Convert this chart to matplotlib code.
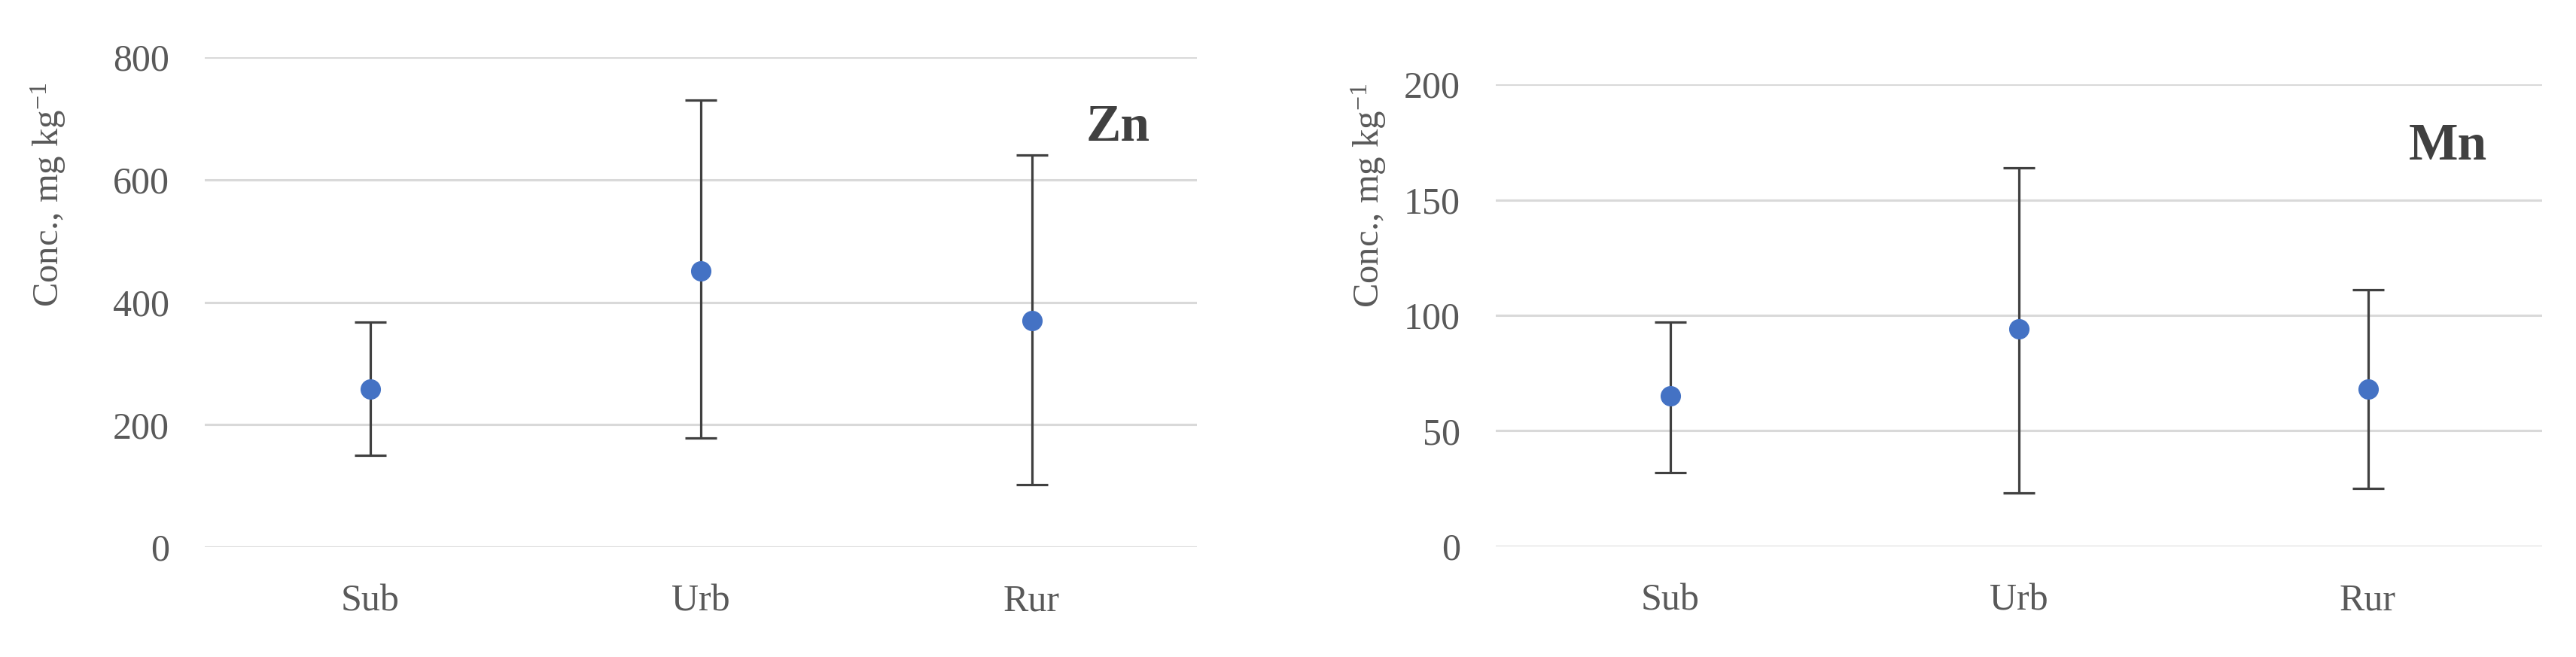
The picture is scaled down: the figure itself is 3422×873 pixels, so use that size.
import numpy as np
import matplotlib
matplotlib.use('Agg')
import matplotlib.pyplot as plt

sites = ['Sub', 'Urb', 'Rur']

zn_mean = [258, 451, 370]
zn_high = [368, 730, 640]
zn_low = [150, 178, 102]

mn_mean = [65, 94, 68]
mn_high = [97, 164, 111]
mn_low = [32, 23, 25]

plt.rcParams['font.family'] = 'Liberation Serif'
plt.rcParams['mathtext.fontset'] = 'custom'
plt.rcParams['mathtext.rm'] = 'Liberation Serif'
plt.rcParams['mathtext.default'] = 'regular'

fig = plt.figure(figsize=(34.22, 8.73), dpi=100)
ax1 = fig.add_axes([0.0795, 0.1672, 0.3852, 0.7457])
ax2 = fig.add_axes([0.5807, 0.1684, 0.4062, 0.7033])


def draw(ax, mean, low, high, ymax, step, name, tx, ty, label_pos):
    x = np.arange(len(sites)) + 0.5
    mean = np.array(mean)
    err = [mean - np.array(low), np.array(high) - mean]
    ax.errorbar(x, mean, yerr=err, fmt='none', ecolor='#404040',
                elinewidth=2.3, capsize=15, capthick=2.3, zorder=2)
    ax.plot(x, mean, 'o', color='#4472C4', markersize=18.5, zorder=3)
    ax.set_xlim(0, 3)
    ax.set_ylim(0, ymax)
    ax.set_yticks(np.arange(0, ymax + 1, step))
    ax.set_xticks(x)
    ax.set_xticklabels(sites)
    ax.grid(axis='y', color='#d9d9d9', linewidth=2.2)
    ax.set_axisbelow(True)
    for s in ax.spines.values():
        s.set_visible(False)
    ax.tick_params(axis='both', length=0, labelsize=36, colors='#595959')
    ax.tick_params(axis='x', pad=35)
    ax.tick_params(axis='y', pad=34)
    ax.set_ylabel('Conc., mg kg$^{-1}$', fontsize=35, color='#595959')
    ax.yaxis.set_label_coords(label_pos[0], label_pos[1])
    ax.text(tx, ty, name, fontsize=50, fontweight='bold', color='#404040',
            ha='center', va='center')


draw(ax1, zn_mean, zn_low, zn_high, 800, 200, 'Zn', 2.76, 684, (-0.138, 0.72))
draw(ax2, mn_mean, mn_low, mn_high, 200, 50, 'Mn', 2.73, 173, (-0.103, 0.76))

fig.savefig('out.png', dpi=100)
